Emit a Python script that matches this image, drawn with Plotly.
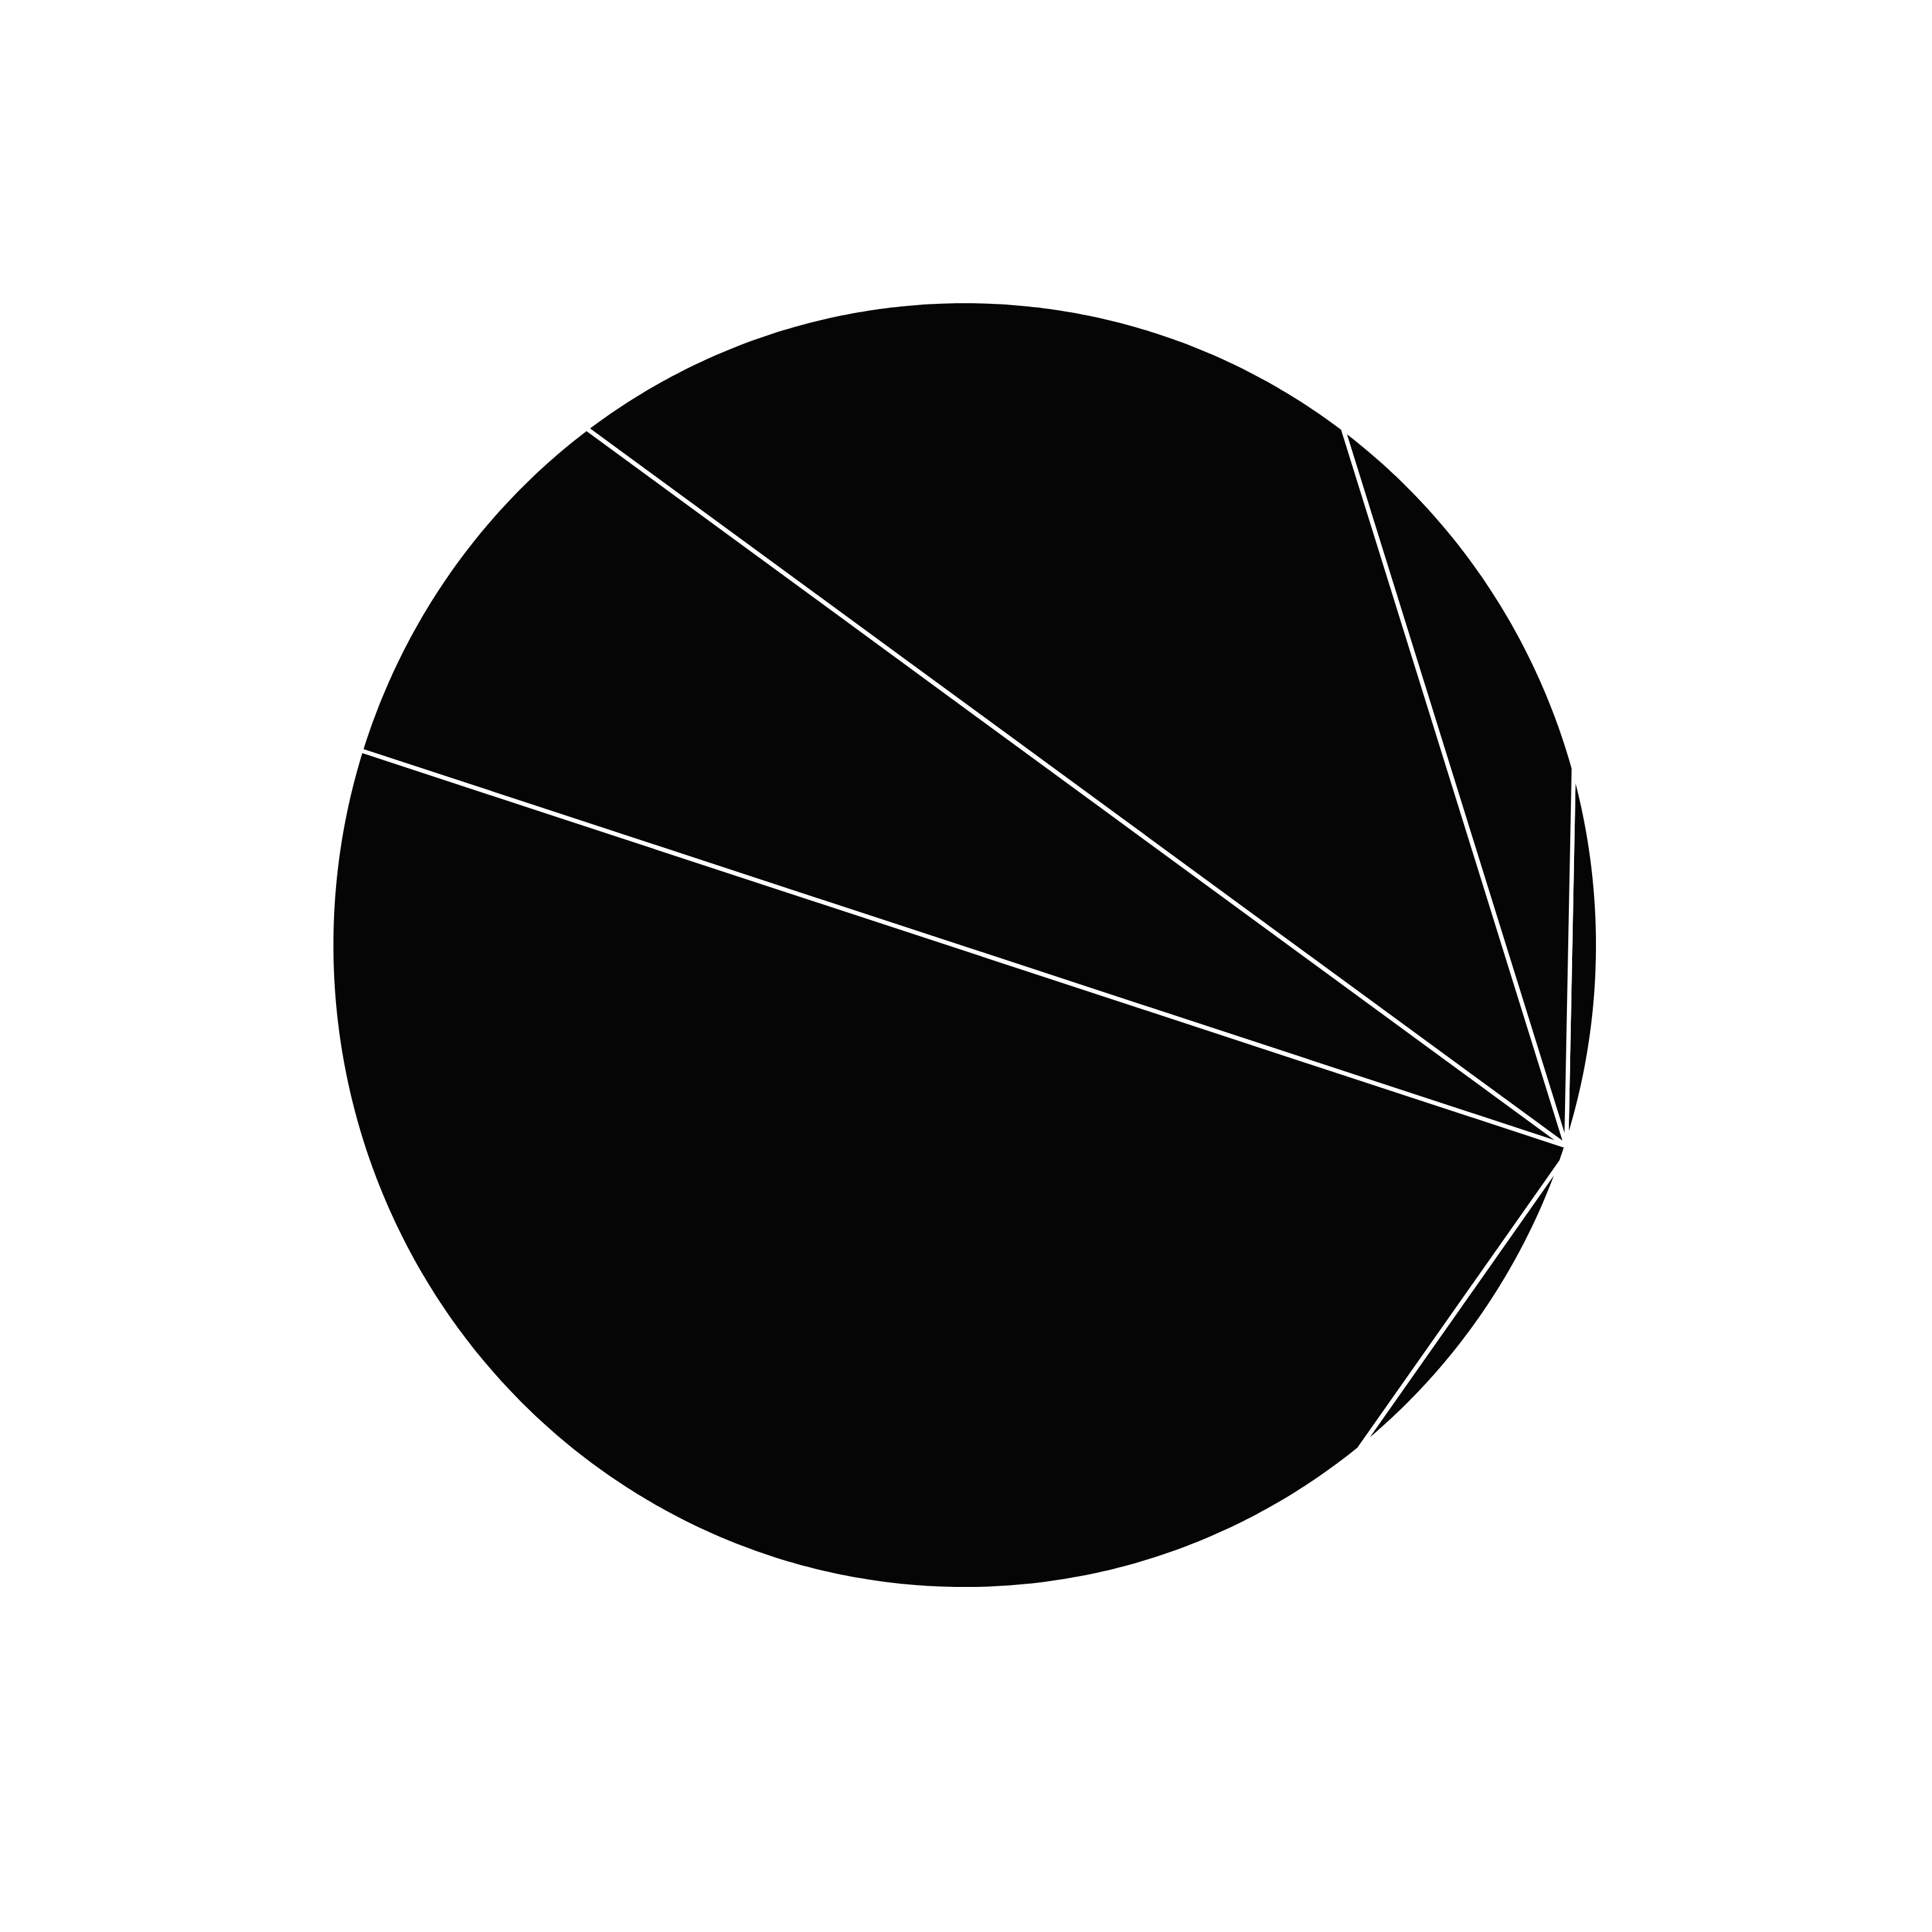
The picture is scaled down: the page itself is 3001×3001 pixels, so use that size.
import numpy as np
import plotly.graph_objects as go

# Slice data (share of the whole, in percent), in counter-clockwise order
labels = ["A", "B", "C", "D", "E", "F", "G"]
values = [9.48, 10.39, 20.37, 9.93, 40.59, 8.84, 0.40]
start_angle = -18.2  # degrees, position of the common apex on the rim

FILL = "#050505"
EDGE = "white"

total = float(sum(values))
bounds = [start_angle]
for v in values:
    bounds.append(bounds[-1] + 360.0 * v / total)


def arc(a0, a1, step=0.5):
    n = max(2, int(np.ceil(abs(a1 - a0) / step)) + 1)
    t = np.radians(np.linspace(a0, a1, n))
    return list(np.cos(t)), list(np.sin(t))


ax, ay = np.cos(np.radians(start_angle)), np.sin(np.radians(start_angle))

polys = []
# first four slices fan out from the apex
for i in range(4):
    xs, ys = arc(bounds[i], bounds[i + 1])
    polys.append((labels[i], [ax] + xs + [ax], [ay] + ys + [ay]))
# the large slice runs back to the apex along the rim past the thin slice
xs1, ys1 = arc(bounds[4], bounds[5])
xs2, ys2 = arc(bounds[6], bounds[7])
polys.append((labels[4], [ax] + xs1 + xs2 + [ax], [ay] + ys1 + ys2 + [ay]))
# thin slice: a segment cut off by its chord
xs, ys = arc(bounds[5], bounds[6])
polys.append((labels[5], xs + [xs[0]], ys + [ys[0]]))

fig = go.Figure()
for name, xs, ys in polys:
    fig.add_trace(go.Scatter(
        x=xs, y=ys, mode="lines", fill="toself", name=name,
        fillcolor=FILL, line=dict(color=EDGE, width=6.5, simplify=False),
        hoverinfo="name",
    ))

fig.update_layout(
    width=3001, height=3001,
    margin=dict(l=0, r=0, t=0, b=0),
    paper_bgcolor="white", plot_bgcolor="white",
    showlegend=False,
    xaxis=dict(visible=False, range=[-1.5150, 1.5354], fixedrange=True),
    yaxis=dict(visible=False, range=[-1.5405, 1.4596], fixedrange=True),
)

fig.write_html("out.html")
